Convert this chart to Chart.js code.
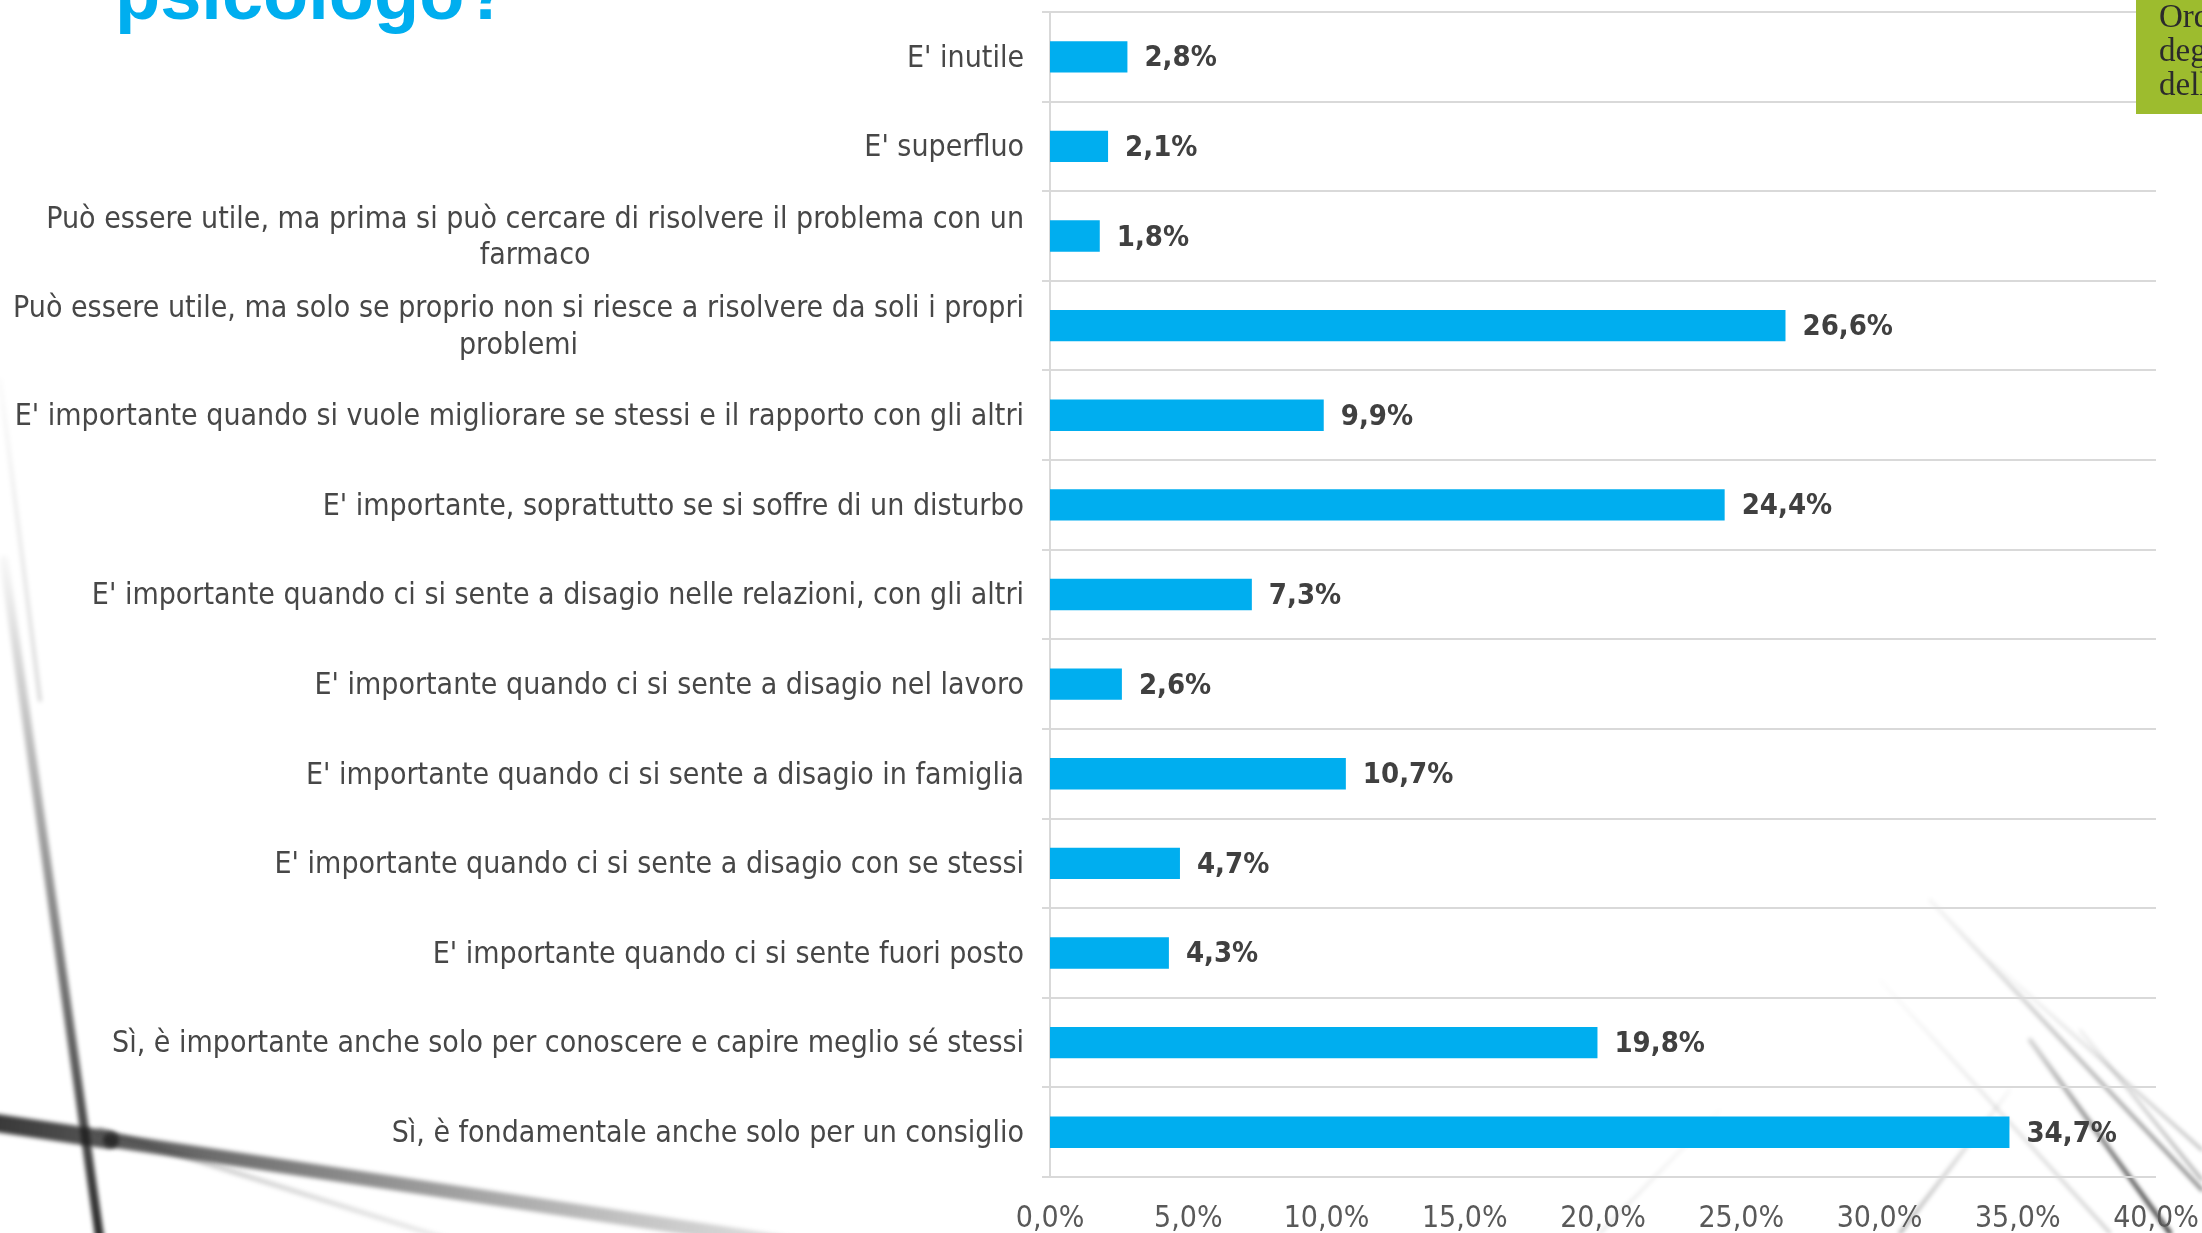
<!DOCTYPE html>
<html>
<head>
<meta charset="utf-8">
<script src="https://cdn.jsdelivr.net/npm/chart.js@4.4.0/dist/chart.umd.min.js"></script>
<style>
  html, body { margin: 0; padding: 0; background: #ffffff; }
  #wrap { width: 2202px; height: 1233px; position: relative; }
</style>
</head>
<body>
<div id="wrap"><canvas id="chart" width="2202" height="1233"></canvas></div>
<script>
// categorie (dall'alto verso il basso)
const categories = [
  ["E' inutile"],
  ["E' superfluo"],
  ["Può essere utile, ma prima si può cercare di risolvere il problema con un", "farmaco"],
  ["Può essere utile, ma solo se proprio non si riesce a risolvere da soli i propri", "problemi"],
  ["E' importante quando si vuole migliorare se stessi e il rapporto con gli altri"],
  ["E' importante, soprattutto se si soffre di un disturbo"],
  ["E' importante quando ci si sente a disagio nelle relazioni, con gli altri"],
  ["E' importante quando ci si sente a disagio nel lavoro"],
  ["E' importante quando ci si sente a disagio in famiglia"],
  ["E' importante quando ci si sente a disagio con se stessi"],
  ["E' importante quando ci si sente fuori posto"],
  ["Sì, è importante anche solo per conoscere e capire meglio sé stessi"],
  ["Sì, è fondamentale anche solo per un consiglio"]
];
const percentages = [2.8, 2.1, 1.8, 26.6, 9.9, 24.4, 7.3, 2.6, 10.7, 4.7, 4.3, 19.8, 34.7];
const xTicks = [0, 5, 10, 15, 20, 25, 30, 35, 40];
const titleText = "psicologo?";
const logoLines = ["Ordine", "degli", "della"];

const labelFont = '"Liberation Sans Narrow", "DejaVu Sans Condensed", "Liberation Sans", sans-serif';

function fmt(v) {
  return v.toFixed(1).replace(".", ",") + "%";
}

// sfondo: bianco con qualche striatura grigia
const backgroundPlugin = {
  id: "sfondo",
  beforeDraw(chart) {
    const ctx = chart.ctx;
    ctx.save();
    ctx.fillStyle = "#ffffff";
    ctx.fillRect(0, 0, chart.width, chart.height);
    ctx.lineCap = "round";

    function stroke(x1, y1, x2, y2, w, c1, c2) {
      const g = ctx.createLinearGradient(x1, y1, x2, y2);
      g.addColorStop(0, c1);
      g.addColorStop(1, c2);
      ctx.strokeStyle = g;
      ctx.lineWidth = w;
      ctx.beginPath();
      ctx.moveTo(x1, y1);
      ctx.lineTo(x2, y2);
      ctx.stroke();
    }
    ctx.filter = "blur(2px)";
    // linee in basso a sinistra
    stroke(4, 560, 100, 1240, 9, "rgba(0,0,0,0.03)", "rgba(20,20,20,0.9)");
    stroke(-10, 1122, 110, 1140, 18, "rgba(20,20,20,0.85)", "rgba(30,30,30,0.75)");
    stroke(110, 1140, 800, 1245, 14, "rgba(30,30,30,0.75)", "rgba(60,60,60,0.15)");
    stroke(100, 1130, 450, 1240, 5, "rgba(60,60,60,0.3)", "rgba(60,60,60,0.1)");
    stroke(0, 380, 40, 700, 4, "rgba(0,0,0,0.02)", "rgba(0,0,0,0.15)");
    // linee in basso a destra
    stroke(1930, 900, 2202, 1190, 3, "rgba(0,0,0,0.05)", "rgba(0,0,0,0.6)");
    stroke(1990, 960, 2202, 1150, 2, "rgba(0,0,0,0.03)", "rgba(0,0,0,0.4)");
    stroke(2030, 1040, 2170, 1233, 4, "rgba(0,0,0,0.2)", "rgba(0,0,0,0.85)");
    stroke(2080, 1030, 2202, 1180, 2, "rgba(0,0,0,0.1)", "rgba(0,0,0,0.5)");
    stroke(1880, 980, 2110, 1233, 2, "rgba(0,0,0,0.02)", "rgba(0,0,0,0.3)");
    stroke(1900, 1233, 2010, 1090, 3, "rgba(0,0,0,0.35)", "rgba(0,0,0,0.03)");
    stroke(1600, 1233, 1720, 1110, 2, "rgba(0,0,0,0.15)", "rgba(0,0,0,0.02)");
    ctx.filter = "none";

    // titolo tagliato in alto
    ctx.fillStyle = "#00AEEF";
    ctx.font = 'bold 74px "Liberation Sans", Arial, sans-serif';
    ctx.textAlign = "left";
    ctx.textBaseline = "alphabetic";
    ctx.fillText(titleText, 115, 19);
    ctx.restore();
  },
  afterDraw(chart) {
    // logo verde in alto a destra, sopra la griglia
    const ctx = chart.ctx;
    ctx.save();
    ctx.fillStyle = "#9DBC2E";
    ctx.fillRect(2136, 0, 70, 114);
    ctx.fillStyle = "#2b2b2b";
    ctx.font = '33px "Liberation Serif", "DejaVu Serif", serif';
    ctx.textAlign = "left";
    ctx.textBaseline = "middle";
    logoLines.forEach((t, i) => ctx.fillText(t, 2159, 18 + i * 34));
    ctx.restore();
  }
};

// etichette delle categorie: allineate a destra, righe multiple centrate tra loro
const categoryLabelPlugin = {
  id: "etichetteCategorie",
  afterDraw(chart) {
    const ctx = chart.ctx;
    const y = chart.scales.y;
    const right = y.right - 26;
    const lh = 36.5;
    ctx.save();
    ctx.font = "30px " + labelFont;
    ctx.fillStyle = "#474747";
    ctx.textBaseline = "middle";
    ctx.textAlign = "center";
    categories.forEach((lines, i) => {
      const cy = y.getPixelForValue(i) + 2;
      const w = Math.max(...lines.map(l => ctx.measureText(l).width));
      const cx = right - w / 2;
      const top = cy - (lines.length - 1) * lh / 2;
      lines.forEach((l, j) => ctx.fillText(l, cx, top + j * lh));
    });
    ctx.restore();
  }
};

// valori alla fine delle barre
const valueLabelPlugin = {
  id: "valori",
  afterDatasetsDraw(chart) {
    const ctx = chart.ctx;
    const meta = chart.getDatasetMeta(0);
    ctx.save();
    ctx.font = "bold 29px " + labelFont;
    ctx.fillStyle = "#404040";
    ctx.textAlign = "left";
    ctx.textBaseline = "middle";
    meta.data.forEach((bar, i) => {
      ctx.fillText(fmt(percentages[i]), bar.x + 17, bar.y + 2);
    });
    ctx.restore();
  }
};

new Chart(document.getElementById("chart"), {
  type: "bar",
  data: {
    labels: categories.map(c => c.join(" ")),
    datasets: [{
      data: percentages,
      backgroundColor: "#00AEEF",
      borderWidth: 0,
      barPercentage: 0.35,
      categoryPercentage: 1.0
    }]
  },
  options: {
    indexAxis: "y",
    responsive: false,
    animation: false,
    layout: { padding: { left: 0, right: 46, top: 12, bottom: 0 } },
    plugins: {
      legend: { display: false },
      tooltip: { enabled: false }
    },
    scales: {
      x: {
        min: 0,
        max: 40,
        afterBuildTicks: (scale) => { scale.ticks = xTicks.map(v => ({ value: v })); },
        grid: { display: false, drawTicks: false },
        border: { display: false },
        ticks: {
          padding: 24,
          color: "#595959",
          font: { family: labelFont, size: 30 },
          maxRotation: 0,
          callback: (v) => fmt(v)
        },
        afterFit: (scale) => {
          scale.height = 56;
          scale.paddingLeft = 0;
          scale.paddingRight = 0;
        }
      },
      y: {
        offset: true,
        grid: {
          color: "#D9D9D9",
          lineWidth: 2,
          offset: true,
          drawTicks: true,
          tickLength: 8
        },
        border: { display: true, color: "#D9D9D9", width: 2 },
        ticks: { display: false },
        afterFit: (scale) => { scale.width = 1050; }
      }
    }
  },
  plugins: [backgroundPlugin, categoryLabelPlugin, valueLabelPlugin]
});
</script>
</body>
</html>
